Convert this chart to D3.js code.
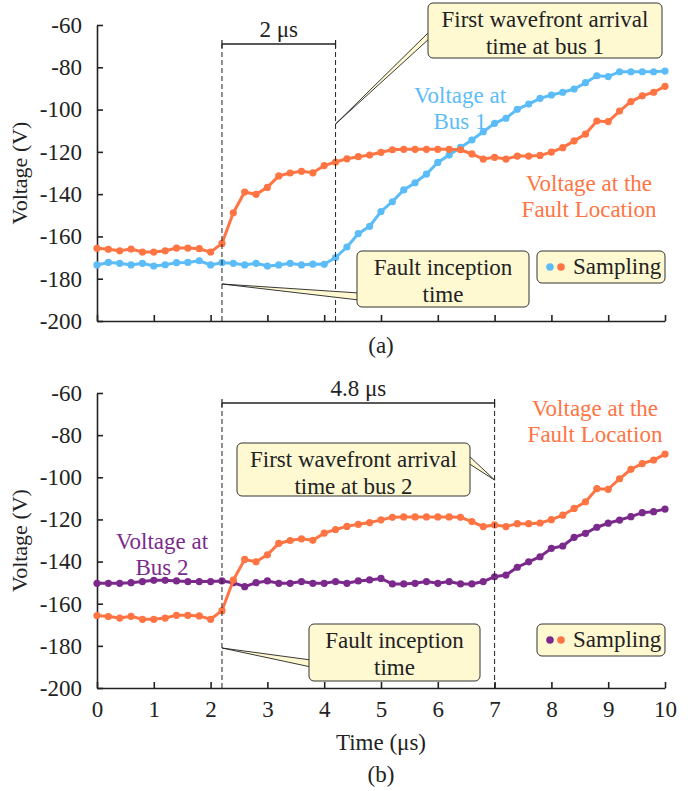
<!DOCTYPE html>
<html>
<head>
<meta charset="utf-8">
<script src="https://cdn.jsdelivr.net/npm/d3@7"></script>
<style>
  body { margin: 0; background: #fff; }
  text { font-family: "Liberation Serif", "Times New Roman", serif; fill: #222; }
</style>
</head>
<body>
<svg width="694" height="791"></svg>
<script>
// sample times (us), one sample every 0.2 us
var time = [0, 0.2, 0.4, 0.6, 0.8, 1.0, 1.2, 1.4, 1.6, 1.8, 2.0, 2.2, 2.4, 2.6, 2.8, 3.0, 3.2, 3.4, 3.6, 3.8,
  4.0, 4.2, 4.4, 4.6, 4.8, 5.0, 5.2, 5.4, 5.6, 5.8, 6.0, 6.2, 6.4, 6.6, 6.8, 7.0, 7.2, 7.4, 7.6, 7.8,
  8.0, 8.2, 8.4, 8.6, 8.8, 9.0, 9.2, 9.4, 9.6, 9.8, 10.0];

// voltage at the fault location (same in both panels)
var faultV = [-165.6, -166.1, -166.8, -166.0, -167.4, -167.4, -166.8, -165.5, -165.5, -165.8, -167.4,
  -163.3, -148.8, -139.0, -140.1, -136.8, -131.4, -130.0, -129.2, -129.9, -126.5,
  -124.8, -123.3, -122.3, -121.5, -120.2, -119.0, -118.8, -118.8, -118.8, -118.8, -118.8,
  -119.0, -121.0, -123.4, -122.6, -123.4, -122.0, -122.0, -121.7, -120.1, -118.0, -114.8, -111.6,
  -105.4, -105.7, -100.7, -96.2, -93.5, -91.8, -89.0];

// voltage at bus 1 (panel a)
var bus1V = [-173.5, -172.3, -172.7, -173.5, -172.7, -174.0, -173.4, -172.4, -172.3, -171.5, -173.5,
  -172.4, -172.7, -173.5, -172.7, -174.0, -173.5, -172.7, -173.5, -173.1, -173.2,
  -170.0, -165.0, -158.7, -155.2, -148.2, -143.6, -138.0, -134.6, -130.5, -125.0, -121.5,
  -117.9, -114.4, -110.5, -106.5, -104.1, -99.9, -97.4, -94.7, -93.1, -91.8, -90.3, -87.3,
  -84.0, -84.4, -82.1, -82.1, -82.1, -82.1, -81.8];

// voltage at bus 2 (panel b)
var bus2V = [-150.3, -150.3, -150.3, -150.0, -149.5, -148.9, -148.9, -149.2, -149.5, -149.5, -149.5,
  -149.2, -150.0, -151.9, -150.0, -149.2, -150.3, -150.3, -149.5, -150.3, -150.3,
  -149.5, -150.3, -149.2, -148.7, -148.0, -150.6, -150.6, -150.3, -149.5, -150.3, -149.5,
  -150.6, -150.6, -149.5, -147.2, -146.4, -142.7, -140.1, -137.7, -133.7, -132.6, -128.5, -126.6,
  -123.7, -121.8, -120.3, -118.7, -116.8, -116.3, -115.1];

var xTicks = [0, 1, 2, 3, 4, 5, 6, 7, 8, 9, 10];
var yTicks = [-200, -180, -160, -140, -120, -100, -80, -60];

var faultTime = 2.2, bus1Time = 4.2, bus2Time = 7.0;

var colors = { fault: "#ff7443", bus1: "#5bbcf7", bus2: "#7b2a8c" };
var boxFill = "#fff9d2";

var svg = d3.select("svg");
var fontSize = 23;

var x = d3.scaleLinear().domain([0, 10]).range([97, 665]);

// text helper
function txt(g, px, py, s, anchor, color) {
  g.append("text")
    .attr("x", px)
    .attr("y", py)
    .attr("text-anchor", anchor || "middle")
    .style("font-size", fontSize + "px")
    .style("fill", color || "#222")
    .text(s);
}

// callout box with a thin wedge pointer
function callout(g, bx, by, bw, bh, lines, base1, base2, tip) {
  g.append("path")
    .attr("d", "M" + base1 + "L" + tip + "L" + base2 + "Z")
    .attr("fill", boxFill)
    .attr("stroke", "#222")
    .attr("stroke-width", 0.9);
  g.append("rect")
    .attr("x", bx).attr("y", by).attr("width", bw).attr("height", bh)
    .attr("rx", 5)
    .attr("fill", boxFill)
    .attr("stroke", "#333")
    .attr("stroke-width", 1);
  lines.forEach(function (l, i) {
    txt(g, bx + bw / 2, by + 24 + i * 26.5, l);
  });
}

function legend(g, bx, by, c1, c2) {
  g.append("rect")
    .attr("x", bx).attr("y", by).attr("width", 128).attr("height", 32)
    .attr("rx", 5)
    .attr("fill", boxFill)
    .attr("stroke", "#333");
  g.append("circle").attr("cx", bx + 13).attr("cy", by + 16).attr("r", 3.8).attr("fill", c1);
  g.append("circle").attr("cx", bx + 24).attr("cy", by + 16).attr("r", 3.8).attr("fill", c2);
  txt(g, bx + 36, by + 23, "Sampling", "start");
}

function panel(top, bottom, other, otherColor, showXLabels) {
  var y = d3.scaleLinear().domain([-200, -60]).range([bottom, top]);
  var g = svg.append("g");

  // axes (ticks point inwards)
  var yAxis = g.append("g")
    .attr("transform", "translate(" + x(0) + ",0)")
    .call(d3.axisLeft(y).tickValues(yTicks).tickSizeInner(-6).tickSizeOuter(0).tickPadding(15)
      .tickFormat(function (d) { return String(d); }));
  var xAxis = g.append("g")
    .attr("transform", "translate(0," + bottom + ")")
    .call(d3.axisBottom(x).tickValues(xTicks).tickSizeInner(-6).tickSizeOuter(0).tickPadding(13)
      .tickFormat(function (d) { return showXLabels ? String(d) : ""; }));
  [yAxis, xAxis].forEach(function (ax) {
    ax.selectAll("path, line").attr("stroke", "#222").attr("stroke-width", 1.6);
    ax.selectAll("text")
      .style("font-family", '"Liberation Serif", "Times New Roman", serif')
      .style("font-size", fontSize + "px")
      .attr("fill", "#222");
  });

  // y title
  g.append("text")
    .attr("transform", "translate(27," + (top + bottom) / 2 + ") rotate(-90)")
    .attr("text-anchor", "middle")
    .style("font-size", "22px")
    .text("Voltage (V)");

  var line = d3.line().x(function (d) { return x(d[0]); }).y(function (d) { return y(d[1]); });

  function series(vals, color) {
    var pts = time.map(function (t, i) { return [t, vals[i]]; });
    g.append("path").datum(pts)
      .attr("d", line)
      .attr("fill", "none")
      .attr("stroke", color)
      .attr("stroke-width", 3);
    g.append("g").selectAll("circle").data(pts).enter().append("circle")
      .attr("cx", function (d) { return x(d[0]); })
      .attr("cy", function (d) { return y(d[1]); })
      .attr("r", 3.6)
      .attr("fill", color);
  }
  series(other, otherColor);
  series(faultV, colors.fault);
  return g;
}

// dashed markers with a span bracket on top
function span(g, t0, t1, yb, bottom, label) {
  [t0, t1].forEach(function (t) {
    g.append("line")
      .attr("x1", x(t)).attr("x2", x(t)).attr("y1", yb).attr("y2", bottom)
      .attr("stroke", "#222").attr("stroke-width", 1).attr("stroke-dasharray", "5,3");
    g.append("line")
      .attr("x1", x(t)).attr("x2", x(t)).attr("y1", yb - 4).attr("y2", yb + 4)
      .attr("stroke", "#222").attr("stroke-width", 1.2);
  });
  g.append("line")
    .attr("x1", x(t0)).attr("x2", x(t1)).attr("y1", yb).attr("y2", yb)
    .attr("stroke", "#222").attr("stroke-width", 1.4);
  txt(g, (x(t0) + x(t1)) / 2, yb - 7, label);
}

// ---- panel (a)
var ga = panel(25, 321, bus1V, colors.bus1, false);
span(ga, faultTime, bus1Time, 44, 321, "2 μs");
callout(ga, 428, 3, 234, 55, ["First wavefront arrival", "time at bus 1"],
  [430, 31], [430, 38], [x(bus1Time), 124]);
callout(ga, 357, 251, 172, 56, ["Fault inception", "time"],
  [359, 293], [359, 300], [x(faultTime), 284]);
legend(ga, 537, 251, colors.bus1, colors.fault);

txt(ga, 460, 103, "Voltage at", "middle", colors.bus1);
txt(ga, 460, 129, "Bus 1", "middle", colors.bus1);
txt(ga, 589, 191, "Voltage at the", "middle", colors.fault);
txt(ga, 589, 217, "Fault Location", "middle", colors.fault);
txt(ga, 381, 353, "(a)");

// ---- panel (b)
var gb = panel(393, 688, bus2V, colors.bus2, true);
span(gb, faultTime, bus2Time, 403, 688, "4.8 μs");
callout(gb, 237, 443, 233, 53, ["First wavefront arrival", "time at bus 2"],
  [468, 455], [468, 463], [x(bus2Time), 480]);
callout(gb, 309, 624, 171, 57, ["Fault inception", "time"],
  [311, 660], [311, 667], [x(faultTime), 648]);
legend(gb, 537, 624, colors.bus2, colors.fault);

txt(gb, 162, 549, "Voltage at", "middle", colors.bus2);
txt(gb, 162, 575, "Bus 2", "middle", colors.bus2);
txt(gb, 595, 416, "Voltage at the", "middle", colors.fault);
txt(gb, 595, 442, "Fault Location", "middle", colors.fault);
txt(gb, 381, 750, "Time (μs)");
txt(gb, 381, 782, "(b)");
</script>
</body>
</html>
